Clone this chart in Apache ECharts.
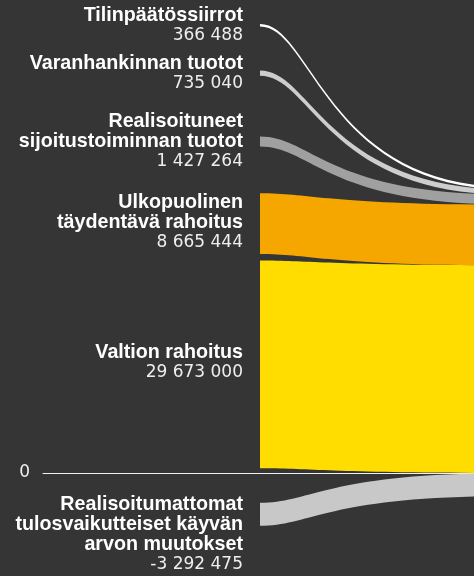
<!DOCTYPE html>
<html><head><meta charset="utf-8">
<script src="https://cdn.jsdelivr.net/npm/echarts@6/dist/echarts.min.js"></script>
<style>html,body{margin:0;padding:0;background:#353535}#c{width:474px;height:576px}</style>
</head><body><div id="c"></div>
<script>
// ---- data (top to bottom as shown) ----
const incomeNames = ['Tilinpäätössiirrot', 'Varanhankinnan tuotot', 'Realisoituneet\nsijoitustoiminnan tuotot', 'Ulkopuolinen\ntäydentävä rahoitus', 'Valtion rahoitus'];
const incomeValues = [366488, 735040, 1427264, 8665444, 29673000];
const negativeNames = ['Realisoitumattomat\ntulosvaikutteiset käyvän\narvon muutokset'];
const negativeValues = [-3292475];
const yTickLabels = [0];

// ---- layout / style (not data) ----
const incomeColors = ['#ffffff', '#cdcdcd', '#a0a0a0', '#f5a700', '#ffdd00'];
const negativeColors = ['#c8c8c8'];
const leftGapBelow = [6.28e6, 8.7e6, 6.66e6, 0.96e6, 0.67e6]; // gap under each left node (value units)
const negativeGap = 4.24e6;
const labelShift = [0, 0, 0, -1, -2];
const negativeLabelShift = [20];
const C1 = 0.208, C2 = 0.269; // bezier control fractions

function fmt(v) {
  const s = String(Math.abs(v)).replace(/\B(?=(\d{3})+(?!\d))/g, ' ');
  return (v < 0 ? '-' : '') + s;
}

// build band list
const bands = [];
let leftBase = 0, rightBase = 0;
for (let i = incomeValues.length - 1; i >= 0; i--) {
  const v = incomeValues[i];
  const lb = leftBase + leftGapBelow[i], lt = lb + v;
  const rb = rightBase, rt = rb + v;
  leftBase = lt; rightBase = rt;
  bands[i] = {name: incomeNames[i], value: v, lt, lb, rt, rb, color: incomeColors[i], shift: labelShift[i]};
}
let negLeft = -negativeGap, negRight = 0;
negativeValues.forEach((v, j) => {
  bands.push({name: negativeNames[j], value: v, lt: negLeft, lb: negLeft + v, rt: negRight, rb: negRight + v,
    color: negativeColors[j], shift: negativeLabelShift[j]});
  negLeft += v; negRight += v;
});

function richText(b) {
  const lines = b.name.split('\n').map(l => '{n|' + l + '}');
  lines.push('{v|' + fmt(b.value) + '}');
  return lines.join('\n');
}

const chart = echarts.init(document.getElementById('c'));
chart.setOption({
  backgroundColor: '#353535',
  animation: false,
  grid: {left: 43, right: 0, top: 53, height: 490},
  xAxis: {
    type: 'value', min: -0.8715, max: 0.8594,
    axisLine: {show: true, onZero: true, lineStyle: {color: '#f0f0f0', width: 1}},
    axisTick: {show: false}, axisLabel: {show: false}, splitLine: {show: false}
  },
  yAxis: {
    type: 'value', min: -10e6, max: 60e6, interval: 10e6,
    axisLine: {show: false}, axisTick: {show: false}, splitLine: {show: false},
    axisLabel: {
      margin: 13, color: '#eeeeee', fontFamily: 'DejaVu Sans', fontSize: 17,
      formatter: v => yTickLabels.indexOf(v) >= 0 ? fmt(v) : ''
    }
  },
  series: [{
    type: 'custom',
    clip: false,
    data: bands.map((b, i) => [i]),
    renderItem: function (params, api) {
      const b = bands[api.value(0)];
      const x0 = api.coord([0, 0])[0], x1 = api.coord([1, 0])[0];
      const c1 = x0 + (x1 - x0) * C1, c2 = x0 + (x1 - x0) * C2;
      const ylt = api.coord([0, b.lt])[1], ylb = api.coord([0, b.lb])[1];
      const yrt = api.coord([1, b.rt])[1], yrb = api.coord([1, b.rb])[1];
      const d = 'M' + x0 + ' ' + ylt + ' C' + c1 + ' ' + ylt + ' ' + c2 + ' ' + yrt + ' ' + x1 + ' ' + yrt +
        ' L' + x1 + ' ' + yrb + ' C' + c2 + ' ' + yrb + ' ' + c1 + ' ' + ylb + ' ' + x0 + ' ' + ylb + ' Z';
      return {
        type: 'group',
        children: [
          {type: 'path', shape: {pathData: d}, style: {fill: b.color}},
          {type: 'text', x: x0 - 17, y: (ylt + ylb) / 2 + b.shift,
            style: {
              text: richText(b), align: 'right', verticalAlign: 'middle',
              rich: {
                n: {fontFamily: 'Liberation Sans', fontWeight: 'bold', fontSize: 19.7, lineHeight: 20, fill: '#ffffff', align: 'right'},
                v: {fontFamily: 'DejaVu Sans', fontSize: 17, lineHeight: 20, fill: '#eeeeee', align: 'right'}
              }
            }}
        ]
      };
    }
  }]
});
</script></body></html>
